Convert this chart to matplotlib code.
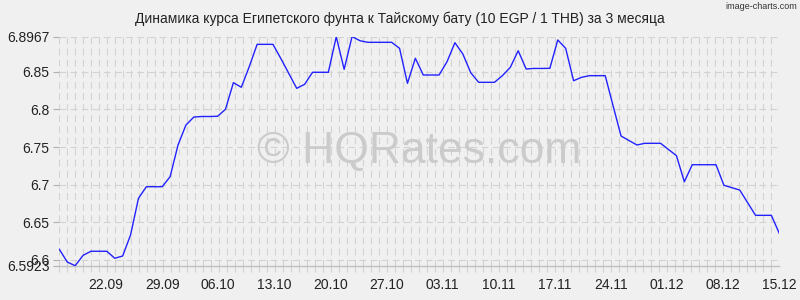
import numpy as np
import matplotlib.pyplot as plt

# Rates, 10 EGP in THB, daily points
values = [6.6142, 6.5973, 6.5924, 6.6062, 6.6116, 6.6116, 6.6116, 6.6023, 6.6053, 6.6332,
          6.6819, 6.6973, 6.6973, 6.6973, 6.7106, 6.7527, 6.7792, 6.7898, 6.7905, 6.7905,
          6.7908, 6.8001, 6.8354, 6.8293, 6.8566, 6.8863, 6.8863, 6.8863, 6.8674, 6.8477,
          6.8279, 6.8332, 6.8492, 6.8492, 6.8492, 6.8964, 6.8532, 6.8967, 6.8911, 6.8890,
          6.8890, 6.8890, 6.8890, 6.8810, 6.8346, 6.8678, 6.8456, 6.8456, 6.8456, 6.8632,
          6.8885, 6.8735, 6.8486, 6.8359, 6.8359, 6.8359, 6.8447, 6.8558, 6.8778, 6.8536,
          6.8543, 6.8543, 6.8545, 6.8921, 6.8810, 6.8380, 6.8425, 6.8447, 6.8447, 6.8447,
          6.8044, 6.7646, 6.7586, 6.7527, 6.7549, 6.7549, 6.7549, 6.7467, 6.7385, 6.7039,
          6.7265, 6.7265, 6.7265, 6.7265, 6.6992, 6.6960, 6.6929, 6.6761, 6.6593, 6.6593,
          6.6593, 6.6354]

tick_labels = ['22.09', '29.09', '06.10', '13.10', '20.10', '27.10', '03.11',
               '10.11', '17.11', '24.11', '01.12', '08.12', '15.12']
y_ticks = [6.5923, 6.6, 6.65, 6.7, 6.75, 6.8, 6.85, 6.8967]
y_labels = ['6.5923', '6.6', '6.65', '6.7', '6.75', '6.8', '6.85', '6.8967']

title = 'Динамика курса Египетского фунта к Тайскому бату (10 EGP / 1 THB) за 3 месяца'

plt.rcParams['font.family'] = ['Liberation Sans', 'DejaVu Sans']
bg = '#f0f0f0'
grid_col = '#d2d2d2'

fig = plt.figure(figsize=(8, 3), dpi=100, facecolor=bg)
ax = fig.add_axes([0.0742, 0.114, 0.8999, 0.7643], facecolor=bg)

n = len(values)
x = np.arange(n)
ax.set_xlim(0, n - 1)
ax.set_ylim(y_ticks[0], y_ticks[-1])

# dashed grid, one vertical line per ~8px
for gx in np.linspace(0, n - 1, 91):
    ax.axvline(gx, color=grid_col, lw=0.8, ls=(0, (6, 4)), zorder=1)
for gy in y_ticks[1:]:
    ax.axhline(gy, color=grid_col, lw=0.8, ls=(0, (6, 4)), zorder=1)

ax.text(0.5, 0.5, '\u00a9 HQRates.com', transform=ax.transAxes, fontsize=32,
        color='#cbcbcb', ha='center', va='center', zorder=2,
        family=['Liberation Sans', 'DejaVu Sans'])

ax.plot(x, values, color='#2222ff', lw=1.0, zorder=3)

for side in ['top', 'right', 'left']:
    ax.spines[side].set_visible(False)
ax.spines['bottom'].set_color('#c0c0c0')
ax.spines['bottom'].set_linewidth(1.0)

ax.set_yticks(y_ticks)
ax.set_yticklabels(y_labels)
ax.set_xticks(np.linspace(5.9, n - 1, len(tick_labels)))
ax.set_xticklabels(tick_labels)
ax.set_xticks(np.linspace(0, n - 1, 91), minor=True)
ax.tick_params(axis='x', which='major', length=0, pad=9, labelsize=10, labelcolor='#222222')
ax.tick_params(axis='x', which='minor', length=4, color=grid_col, width=0.8)
ax.tick_params(axis='y', length=4, color='#b0b0b0', width=0.8, pad=3,
               labelsize=10, labelcolor='#222222')

fig.text(0.5, 0.937, title, ha='center', va='center', fontsize=10, color='#222222')
fig.text(0.997, 0.978, 'image-charts.com', ha='right', va='center', fontsize=6.5,
         color='#333333')

fig.savefig('out.png', dpi=100, facecolor=bg)
